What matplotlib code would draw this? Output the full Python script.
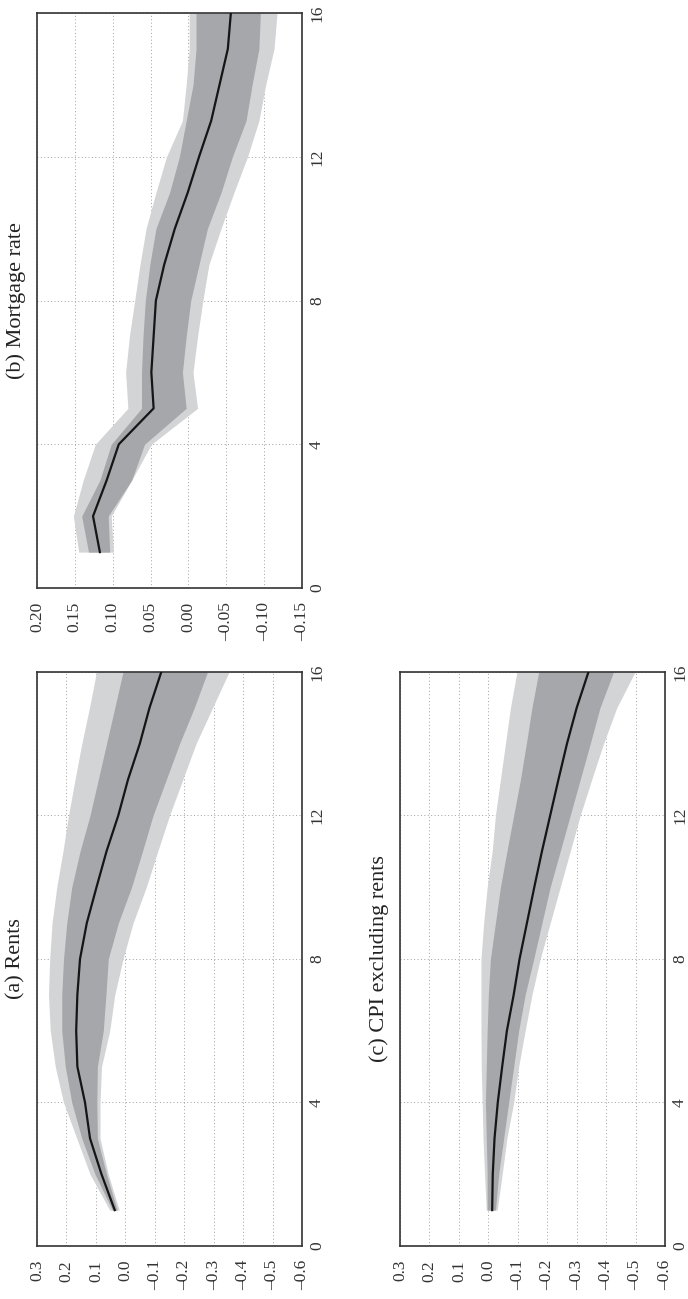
import numpy as np
import matplotlib.pyplot as plt

plt.rcParams["font.family"] = ["Liberation Serif", "DejaVu Serif"]

horizon = list(range(1, 17))

# (a) Rents
rents_median = [0.036, 0.081, 0.120, 0.137, 0.163, 0.167, 0.163, 0.154,
                0.131, 0.098, 0.064, 0.024, -0.009, -0.049, -0.082, -0.122]
rents_inner_hi = [0.044, 0.103, 0.148, 0.182, 0.204, 0.216, 0.216, 0.210,
                  0.199, 0.182, 0.154, 0.120, 0.092, 0.064, 0.036, 0.008]
rents_inner_lo = [0.028, 0.064, 0.095, 0.097, 0.095, 0.075, 0.066, 0.058,
                  0.024, -0.021, -0.058, -0.094, -0.139, -0.184, -0.234, -0.279]
rents_outer_hi = [0.053, 0.120, 0.165, 0.210, 0.238, 0.255, 0.261, 0.257,
                  0.249, 0.233, 0.212, 0.193, 0.171, 0.148, 0.122, 0.098]
rents_outer_lo = [0.021, 0.058, 0.086, 0.086, 0.081, 0.053, 0.036, 0.008,
                  -0.026, -0.071, -0.110, -0.150, -0.195, -0.240, -0.296, -0.352]

# (b) Mortgage rate
mort_median = [0.117, 0.126, 0.108, 0.092, 0.046, 0.049, 0.046, 0.043,
               0.032, 0.018, 0.001, -0.014, -0.030, -0.041, -0.052, -0.056]
mort_inner_hi = [0.132, 0.141, 0.117, 0.102, 0.062, 0.062, 0.060, 0.057,
                 0.051, 0.043, 0.025, 0.012, 0.003, -0.006, -0.010, -0.010]
mort_inner_lo = [0.104, 0.106, 0.075, 0.058, 0.003, 0.008, 0.003, -0.003,
                 -0.014, -0.025, -0.043, -0.058, -0.076, -0.084, -0.093, -0.095]
mort_outer_hi = [0.145, 0.152, 0.139, 0.123, 0.080, 0.083, 0.078, 0.071,
                 0.064, 0.056, 0.043, 0.029, 0.008, 0.003, -0.001, -0.001]
mort_outer_lo = [0.099, 0.102, 0.075, 0.049, -0.012, -0.006, -0.012, -0.019,
                 -0.027, -0.043, -0.060, -0.078, -0.093, -0.102, -0.113, -0.117]

# (c) CPI excluding rents
cpi_median = [-0.013, -0.015, -0.021, -0.032, -0.047, -0.063, -0.086, -0.106,
              -0.131, -0.156, -0.182, -0.210, -0.238, -0.267, -0.300, -0.340]
cpi_inner_hi = [0.004, 0.004, 0.007, 0.010, 0.007, 0.004, 0.000, -0.007,
                -0.024, -0.041, -0.063, -0.086, -0.109, -0.129, -0.148, -0.171]
cpi_inner_lo = [-0.024, -0.035, -0.052, -0.069, -0.086, -0.103, -0.125, -0.154,
                -0.182, -0.210, -0.244, -0.278, -0.312, -0.346, -0.379, -0.425]
cpi_outer_hi = [0.007, 0.013, 0.018, 0.021, 0.024, 0.025, 0.025, 0.025,
                0.016, 0.004, -0.013, -0.024, -0.041, -0.058, -0.075, -0.097]
cpi_outer_lo = [-0.030, -0.047, -0.063, -0.086, -0.103, -0.125, -0.148, -0.176,
                -0.210, -0.244, -0.278, -0.312, -0.351, -0.391, -0.436, -0.498]

value_ticks_a = [0.3, 0.2, 0.1, 0.0, -0.1, -0.2, -0.3, -0.4, -0.5, -0.6]
value_ticks_b = [0.20, 0.15, 0.10, 0.05, 0.00, -0.05, -0.10, -0.15]
horizon_ticks = [0, 4, 8, 12, 16]

light = "#d3d4d6"
dark = "#a6a7aa"


def draw_panel(ax, med, ihi, ilo, ohi, olo, vticks, fmt, title):
    # page is turned: horizon runs up, values run right-to-left
    ax.fill_betweenx(horizon, olo, ohi, color=light, lw=0, zorder=1)
    ax.fill_betweenx(horizon, ilo, ihi, color=dark, lw=0, zorder=2)
    ax.plot(med, horizon, color="#151515", lw=1.6, zorder=3)
    ax.set_xlim(vticks[0], vticks[-1])
    ax.set_ylim(0, 16)
    ax.set_xticks(vticks)
    ax.set_xticklabels([fmt.format(v).replace("-", "\u2013") for v in vticks],
                       rotation=90)
    ax.set_yticks(horizon_ticks)
    ax.yaxis.tick_right()
    ax.set_yticklabels([str(t) for t in horizon_ticks], rotation=90, va="center")
    ax.tick_params(length=0, labelsize=12.5, colors="#333333")
    ax.tick_params(axis="x", pad=10)
    ax.tick_params(axis="y", pad=5)
    ax.grid(True, linestyle=(0, (1, 2.5)), color="#a0a0a0", lw=0.7, zorder=0)
    ax.set_axisbelow(True)
    for s in ax.spines.values():
        s.set_color("#333333")
        s.set_linewidth(1.2)
    ax.text(-0.079, 0.5, title, transform=ax.transAxes, rotation=90,
            ha="center", va="center", fontsize=16, color="#222222")


fig = plt.figure(figsize=(6.88, 12.99), dpi=100)
ax_b = fig.add_axes([0.0538, 0.5473, 0.3852, 0.4427])
ax_a = fig.add_axes([0.0538, 0.0408, 0.3852, 0.4419])
ax_c = fig.add_axes([0.5814, 0.0408, 0.3852, 0.4419])

draw_panel(ax_a, rents_median, rents_inner_hi, rents_inner_lo, rents_outer_hi,
           rents_outer_lo, value_ticks_a, "{:.1f}", "(a) Rents")
draw_panel(ax_b, mort_median, mort_inner_hi, mort_inner_lo, mort_outer_hi,
           mort_outer_lo, value_ticks_b, "{:.2f}", "(b) Mortgage rate")
draw_panel(ax_c, cpi_median, cpi_inner_hi, cpi_inner_lo, cpi_outer_hi,
           cpi_outer_lo, value_ticks_a, "{:.1f}", "(c) CPI excluding rents")

fig.savefig("out.png", dpi=100)
